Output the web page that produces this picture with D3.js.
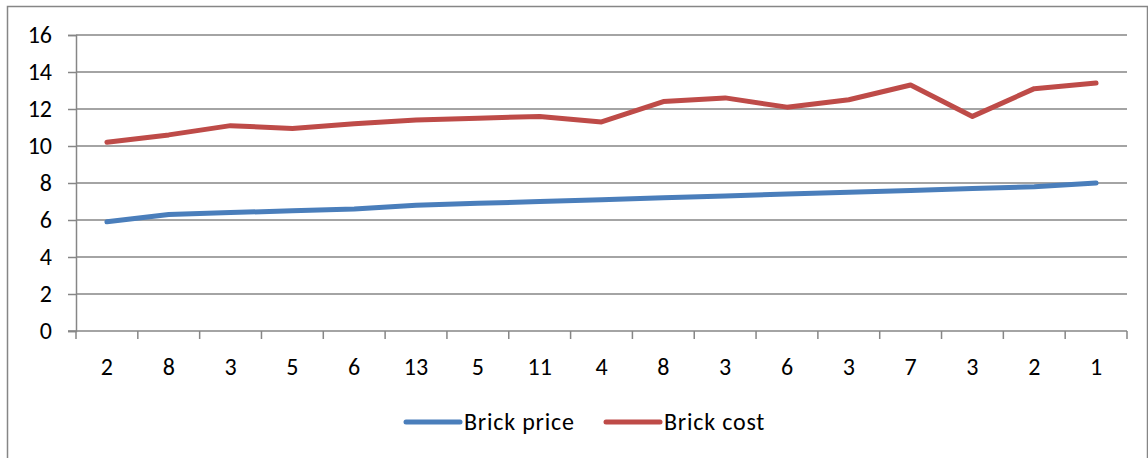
<!DOCTYPE html>
<html>
<head>
<meta charset="utf-8">
<script src="https://cdn.jsdelivr.net/npm/d3@7"></script>
<style>
  body { margin: 0; background: #fff; }
  svg text { font-family: Carlito, Calibri, Lato, sans-serif; fill: #000; }
</style>
</head>
<body>
<script>
// chart data
var categories = ["2", "8", "3", "5", "6", "13", "5", "11", "4", "8", "3", "6", "3", "7", "3", "2", "1"];
var brickPrice = [5.9, 6.3, 6.4, 6.5, 6.6, 6.8, 6.9, 7.0, 7.1, 7.2, 7.3, 7.4, 7.5, 7.6, 7.7, 7.8, 8.0];
var brickCost = [10.2, 10.6, 11.1, 10.95, 11.2, 11.4, 11.5, 11.6, 11.3, 12.4, 12.6, 12.1, 12.5, 13.3, 11.6, 13.1, 13.4];
var yTicks = [0, 2, 4, 6, 8, 10, 12, 14, 16];
var seriesNames = ["Brick price", "Brick cost"];

drawChart();

function drawChart() {
    var width = 1148, height = 458;
    var left = 76, right = 1127, top = 35, bottom = 331;
    var axisColor = "#868686";
    var colors = ["#4a7ebb", "#be4b48"];
    var fontSize = 24;

    var svg = d3.select("body")
        .append("svg")
        .attr("width", width)
        .attr("height", height);

    // outer chart border
    svg.append("rect")
        .attr("x", 7.5).attr("y", 6.5)
        .attr("width", 1140).attr("height", 470)
        .attr("fill", "none")
        .attr("stroke", axisColor)
        .attr("stroke-width", 1.5);

    var x = d3.scaleBand()
        .domain(d3.range(categories.length))
        .range([left, right]);

    var y = d3.scaleLinear()
        .domain([0, 16])
        .range([bottom, top]);

    // horizontal gridlines
    svg.selectAll(".grid")
        .data(yTicks.filter(function(d) { return d > 0; }))
        .enter()
        .append("line")
        .attr("class", "grid")
        .attr("x1", left).attr("x2", right)
        .attr("y1", function(d) { return y(d); })
        .attr("y2", function(d) { return y(d); })
        .attr("stroke", axisColor)
        .attr("stroke-width", 1.5);

    // y axis
    var yAxis = svg.append("g")
        .attr("transform", "translate(" + left + ",0)")
        .call(d3.axisLeft(y).tickValues(yTicks).tickSize(8).tickPadding(16));
    yAxis.select(".domain").attr("stroke", axisColor).attr("stroke-width", 1.5);
    yAxis.selectAll(".tick line").attr("stroke", axisColor).attr("stroke-width", 1.5);
    yAxis.selectAll(".tick text")
        .attr("font-size", fontSize)
        .attr("fill", "#000")
        .style("font-family", "Carlito, Calibri, Lato, sans-serif");

    // x axis line
    svg.append("line")
        .attr("x1", left - 8).attr("x2", right)
        .attr("y1", bottom).attr("y2", bottom)
        .attr("stroke", axisColor)
        .attr("stroke-width", 1.5);

    // x tick marks sit on category boundaries
    var boundaries = d3.range(categories.length + 1);
    svg.selectAll(".xtick")
        .data(boundaries)
        .enter()
        .append("line")
        .attr("class", "xtick")
        .attr("x1", function(d) { return left + d * x.step(); })
        .attr("x2", function(d) { return left + d * x.step(); })
        .attr("y1", bottom).attr("y2", bottom + 8)
        .attr("stroke", axisColor)
        .attr("stroke-width", 1.5);

    svg.selectAll(".xlabel")
        .data(categories)
        .enter()
        .append("text")
        .attr("class", "xlabel")
        .attr("x", function(d, i) { return x(i) + x.bandwidth() / 2; })
        .attr("y", 375)
        .attr("text-anchor", "middle")
        .attr("font-size", fontSize)
        .text(function(d) { return d; });

    // lines
    var line = d3.line()
        .x(function(d, i) { return x(i) + x.bandwidth() / 2; })
        .y(function(d) { return y(d); });

    [brickPrice, brickCost].forEach(function(series, k) {
        svg.append("path")
            .datum(series)
            .attr("d", line)
            .attr("fill", "none")
            .attr("stroke", colors[k])
            .attr("stroke-width", 5)
            .attr("stroke-linecap", "round")
            .attr("stroke-linejoin", "round");
    });

    // legend
    var legendX = [406, 606];
    var legend = svg.selectAll(".legend")
        .data(seriesNames)
        .enter()
        .append("g")
        .attr("class", "legend")
        .attr("transform", function(d, i) { return "translate(" + legendX[i] + ",422)"; });
    legend.append("line")
        .attr("x1", 0).attr("x2", 54)
        .attr("stroke", function(d, i) { return colors[i]; })
        .attr("stroke-width", 5)
        .attr("stroke-linecap", "round");
    legend.append("text")
        .attr("x", 58)
        .attr("y", 8)
        .attr("font-size", fontSize)
        .attr("letter-spacing", 0.8)
        .text(function(d) { return d; });
}
</script>
</body>
</html>
